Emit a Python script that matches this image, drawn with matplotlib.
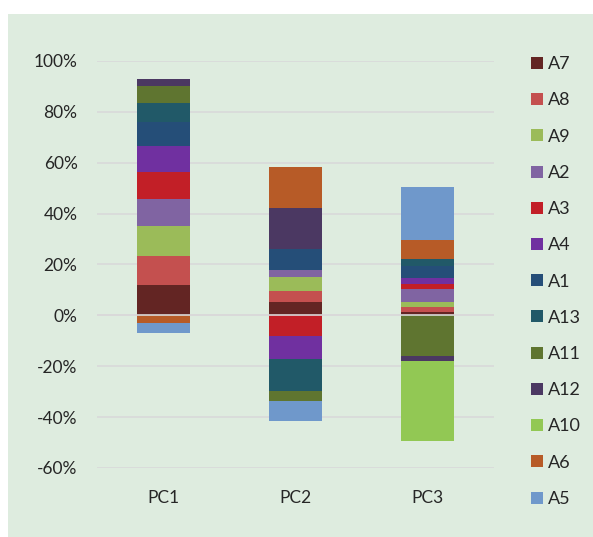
import numpy as np
import matplotlib.pyplot as plt
from matplotlib.patches import Rectangle, Patch
from matplotlib.ticker import FuncFormatter

plt.rcParams['font.family'] = ['Lato', 'DejaVu Sans']

categories = ['PC1', 'PC2', 'PC3']
names = ['A7', 'A8', 'A9', 'A2', 'A3', 'A4', 'A1', 'A13', 'A11', 'A12', 'A10', 'A6', 'A5']
colors = ['#632523', '#c4504f', '#9bbb59', '#8064a2', '#c21f27', '#7030a0', '#254e78',
          '#215968', '#5f7530', '#4b3862', '#92c854', '#b75b27', '#6f98cb']

# share per component, in %
pc1 = [11.9, 11.4, 11.7, 10.8, 10.5, 10.2, 9.5, 7.3, 7.0, 2.6, 0.0, -3.1, -3.7]
pc2 = [5.2, 4.3, 5.5, 3.0, -8.1, -9.2, 7.9, -12.6, -3.7, 16.3, 0.0, 16.2, -7.9]
pc3 = [1.4, 1.9, 1.9, 5.1, 2.1, 2.2, 5.0, 2.6, -15.9, -2.1, -31.3, 7.3, 21.0]

vals = np.array([pc1, pc2, pc3]).T   # rows = series

bg = '#deecdf'
fig = plt.figure(figsize=(5.93, 5.37), dpi=100)
fig.patch.set_facecolor('white')
fig.patches.append(Rectangle((8/593, 0), 1, 1 - 14/537, transform=fig.transFigure,
                             facecolor=bg, edgecolor='none', zorder=-10))

ax = fig.add_axes([97/593, 1 - 468/537, 397/593, 407/537])
ax.set_facecolor('none')

x = np.arange(len(categories))
pos_bot = np.zeros(len(categories))
neg_bot = np.zeros(len(categories))
for i in range(len(names)):
    v = vals[i]
    bottom = np.where(v >= 0, pos_bot, neg_bot)
    ax.bar(x, v, 0.4, bottom=bottom, color=colors[i], zorder=2)
    pos_bot = pos_bot + np.where(v > 0, v, 0)
    neg_bot = neg_bot + np.where(v < 0, v, 0)

ax.axhline(0, color='#d9d9d9', lw=1.2, zorder=3)

ax.set_xlim(-0.5, 2.5)
ax.set_ylim(-60, 100)
ax.set_yticks(np.arange(-60, 101, 20))
ax.yaxis.set_major_formatter(FuncFormatter(lambda v, p: '%d%%' % v))
ax.set_xticks(x)
ax.set_xticklabels(categories)
ax.grid(axis='y', color='#d9d9d9', lw=1.2, zorder=0)
ax.set_axisbelow(True)
for s in ax.spines.values():
    s.set_visible(False)
ax.tick_params(axis='y', length=0, pad=14, labelsize=12.5, labelcolor='#262626')
ax.tick_params(axis='x', length=0, pad=16, labelsize=12.5, labelcolor='#262626')

handles = [Patch(facecolor=c, edgecolor='none') for c in colors]
fig.legend(handles, names, loc='upper left', bbox_to_anchor=(515/593, 1 - 40/537),
           frameon=False, fontsize=13, handlelength=0.65, handleheight=0.65,
           handletextpad=0.3, labelspacing=1.12, labelcolor='#262626')

fig.savefig('out.png', dpi=100, facecolor=fig.get_facecolor())
